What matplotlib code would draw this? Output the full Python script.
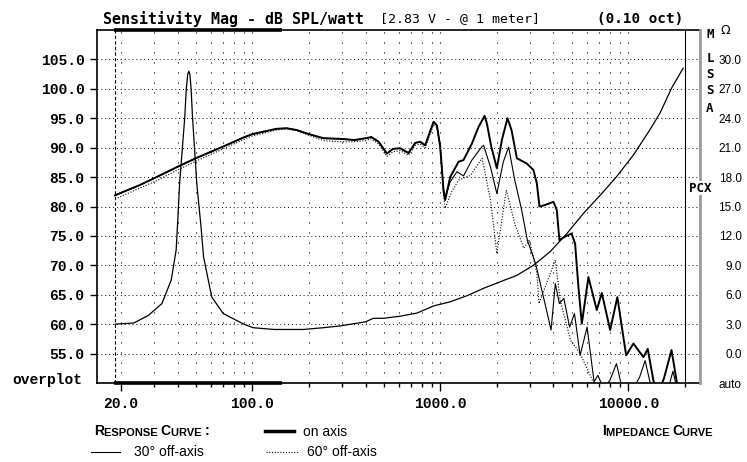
import matplotlib.pyplot as plt
from matplotlib.lines import Line2D
from matplotlib.ticker import NullFormatter, NullLocator

# ---- values ----
# on-axis response, Hz / dB SPL
on_freq = [18.6, 20.6, 25, 30, 40, 50, 70, 90, 100, 134,
           152, 172, 200, 239, 293, 350, 400, 430, 470, 520,
           560, 612, 677, 735, 782, 831, 921, 959, 999, 1040,
           1061, 1129, 1250, 1329, 1473, 1597, 1720, 1770, 1867, 2000,
           2127, 2278, 2393, 2556, 2886, 3130, 3265, 3371, 3571, 4003,
           4168, 4304, 4618, 4996, 5216, 5433, 5665, 6142, 6801, 7237,
           8014, 8755, 9749, 10658, 12051, 12700, 13600, 14300, 15500, 17000, 18500]
on_db = [81.9, 82.5, 83.6, 84.8, 86.75, 88.2, 90.2, 91.75, 92.3, 93.2,
         93.3, 93.0, 92.3, 91.6, 91.5, 91.3, 91.6, 91.8, 91.0, 89.0,
         89.8, 89.9, 89.1, 90.8, 91.0, 90.4, 94.4, 93.8, 90.2, 82.8,
         81.1, 85.0, 87.6, 87.9, 90.7, 93.5, 95.4, 94.1, 90.2, 86.5,
         91.3, 95.0, 93.0, 88.2, 87.3, 86.2, 83.9, 80.0, 80.2, 80.8,
         79.4, 74.3, 74.9, 75.4, 73.7, 66.3, 60.1, 68.0, 62.4, 65.3,
         59.0, 64.6, 54.7, 56.7, 54.4, 55.8, 50.5, 48.0, 50.8, 55.6, 48.5]

# 30 deg off-axis
off30_freq = [18.6, 20.6, 25, 30, 40, 50, 70, 90, 100, 134,
              152, 172, 200, 239, 293, 350, 400, 430, 470, 520,
              560, 612, 677, 735, 782, 831, 921, 959, 999, 1040,
              1061, 1129, 1226, 1329, 1473, 1668, 1700, 1850, 2000, 2165,
              2310, 2490, 2710, 2905, 3215, 3571, 3885, 4094, 4304, 4544,
              4877, 5176, 5548, 6041, 6583, 6900, 7400, 8000, 8660, 9300,
              10400, 11500, 12300, 13200, 15100, 15500, 16000, 17300, 18500]
off30_db = [81.9, 82.5, 83.6, 84.8, 86.75, 88.2, 90.2, 91.75, 92.3, 93.2,
            93.3, 93.0, 92.3, 91.6, 91.5, 91.3, 91.6, 91.8, 91.0, 89.0,
            89.8, 89.9, 89.1, 90.8, 91.0, 90.4, 94.4, 93.8, 90.2, 83.0,
            81.5, 84.2, 85.9, 85.2, 87.9, 90.2, 90.4, 86.7, 82.2, 87.6,
            90.1, 84.5, 79.4, 74.3, 70.3, 64.1, 59.0, 66.9, 63.5, 64.4,
            59.5, 61.8, 54.7, 59.5, 50.2, 51.3, 49.0, 50.5, 53.3, 49.0,
            48.5, 51.0, 53.8, 49.5, 47.5, 49.8, 48.0, 52.0, 48.0]

# 60 deg off-axis
off60_freq = [18.6, 20.6, 30, 40, 50, 70, 90, 100, 134, 152,
              172, 200, 239, 293, 350, 400, 430, 470, 520, 560,
              612, 677, 735, 782, 831, 921, 959, 999, 1040, 1061,
              1150, 1250, 1450, 1668, 1850, 2000, 2245, 2490, 2780, 2980,
              3265, 3350, 4094, 4342, 4930, 5548, 6447, 7000]
off60_db = [81.3, 81.9, 84.2, 86.2, 87.7, 89.8, 91.4, 92.0, 93.0, 93.2,
            92.9, 92.1, 91.2, 91.0, 91.0, 91.2, 91.5, 90.6, 88.5, 89.3,
            89.5, 88.7, 90.4, 90.6, 90.0, 93.9, 93.4, 90.0, 82.0, 79.7,
            82.5, 84.5, 85.3, 88.2, 81.1, 72.0, 82.8, 77.1, 72.9, 74.3,
            68.6, 63.5, 70.9, 64.1, 57.3, 55.0, 50.5, 49.0]

# impedance, Hz / ohm
imp_freq = [18.6, 23.4, 28, 33, 37, 39.3, 40, 41, 43.7, 44.5,
            45.3, 45.9, 46.5, 47.2, 48, 50.6, 53.3, 55, 60.8, 70,
            90, 101, 130, 187, 239, 293, 400, 440, 500, 612,
            754, 921, 1129, 1403, 1700, 2083, 2556, 3130, 3835, 4716,
            5767, 7088, 8660, 10658, 13020, 14777, 17000, 19600]
imp_ohm = [3.0, 3.12, 3.9, 5.1, 7.5, 10.56, 13.26, 17.34, 24.18, 27.0,
           28.5, 28.8, 28.5, 27.0, 24.18, 17.34, 12.93, 9.84, 5.76, 4.08,
           3.0, 2.64, 2.46, 2.46, 2.64, 2.82, 3.24, 3.6, 3.6, 3.81,
           4.14, 4.86, 5.28, 5.94, 6.66, 7.32, 7.98, 9.0, 10.38, 12.24,
           14.28, 16.14, 18.03, 20.25, 22.8, 24.54, 27.06, 29.1]

db_ticks = [55, 60, 65, 70, 75, 80, 85, 90, 95, 100, 105]
freq_labels = [20, 100, 1000, 10000]
grid_freqs = [20, 30, 40, 50, 60, 70, 80, 90,
              100, 200, 300, 400, 500, 600, 700, 800, 900,
              1000, 2000, 3000, 4000, 5000, 6000, 7000, 8000, 9000, 10000]
hf_line = 20000
start_line = 18.6
bar_freqs = [18.3, 144]
ohm_ticks = [-3, 0, 3, 6, 9, 12, 15, 18, 21, 24, 27, 30]
ohm_labels = ['auto'] + ['%.1f' % v for v in ohm_ticks[1:]]

W, H = 747, 462
mono = 'Liberation Mono'
sans = 'Liberation Sans'

fig = plt.figure(figsize=(W / 100, H / 100), dpi=100)
ax = fig.add_axes([97 / W, 1 - 383 / H, 603 / W, 353 / H])
ax.set_xscale('log')
ax.set_xlim(14.9, 24100)
ax.set_ylim(50, 110)

# grid
for f in grid_freqs:
    ax.axvline(f, color='black', lw=0.8, ls=(0, (1, 8)), zorder=1)
for d in db_ticks:
    ax.axhline(d, color='black', lw=0.7, ls=(0, (1, 3)), zorder=1)
ax.axvline(start_line, color='black', lw=0.8, ls=(0, (3, 2)), zorder=1)
ax.axvline(hf_line, color='black', lw=0.8, zorder=1)

# curves
ax.plot(on_freq, on_db, color='black', lw=1.4, zorder=4)
ax.plot(off30_freq, off30_db, color='black', lw=0.8, zorder=3)
ax.plot(off60_freq, off60_db, color='black', lw=0.8, ls=(0, (1, 1.5)), zorder=3)

# thick bars along top and bottom
for yb in (110, 50):
    ax.plot(bar_freqs, [yb, yb], color='black', lw=2.6, solid_capstyle='butt',
            clip_on=False, zorder=6)

# axis ticks
ax.set_xticks(freq_labels)
ax.set_xticklabels(['%.1f' % f for f in freq_labels], family=mono, weight='bold', size=10.5)
ax.set_xticks(grid_freqs + [hf_line], minor=True)
ax.xaxis.set_minor_formatter(NullFormatter())
ax.tick_params(axis='x', which='major', direction='out', length=6, width=1, pad=4, top=False)
ax.tick_params(axis='x', which='minor', direction='out', length=3, width=1, top=False)
ax.set_yticks(db_ticks)
ax.set_yticklabels(['%.1f' % d for d in db_ticks], family=mono, weight='bold', size=10.5)
ax.yaxis.set_minor_locator(NullLocator())
ax.tick_params(axis='y', direction='out', length=5, width=1, pad=4, right=False)
for s in ['left', 'bottom', 'top']:
    ax.spines[s].set_linewidth(1.2)
ax.spines['right'].set_visible(False)

# impedance on its own scale
ax2 = ax.twinx()
ax2.set_ylim(-3, 33)
ax2.plot(imp_freq, imp_ohm, color='black', lw=0.9)
ax2.set_yticks(ohm_ticks)
ax2.set_yticklabels(ohm_labels, family=sans, size=8.5, ha='right')
ax2.tick_params(axis='y', length=0, pad=30)
for s in ['left', 'bottom', 'top']:
    ax2.spines[s].set_visible(False)
ax2.spines['right'].set_color('#9a9a9a')
ax2.spines['right'].set_linewidth(2)

# title
fig.text(103 / W, 1 - 19 / H, 'Sensitivity Mag - dB SPL/watt', family='DejaVu Sans Mono',
         weight='bold', size=10.8, va='center')
fig.text(380 / W, 1 - 19 / H, '[2.83 V - @ 1 meter]', family='DejaVu Sans Mono',
         size=9.5, va='center')
fig.text(597 / W, 1 - 19 / H, '(0.10 oct)', family='DejaVu Sans Mono',
         weight='bold', size=10.3, va='center')

fig.text(82 / W, 1 - 380 / H, 'overplot', family=mono, weight='bold', size=10.5,
         ha='right', va='center')
fig.text(725 / W, 1 - 30 / H, 'Ω', family='DejaVu Sans', size=9, ha='center', va='center')
for ch, yy in zip('MLSSA', [35, 59, 75, 90, 109]):
    fig.text(710 / W, 1 - yy / H, ch, family='DejaVu Sans Mono', weight='bold', size=9,
             ha='center', va='center')
fig.text(700 / W, 1 - 188 / H, 'PCX', family='DejaVu Sans Mono', weight='bold', size=9,
         ha='center', va='center', bbox=dict(fc='white', ec='none', pad=0.5))


def small_caps(x, y, words):
    # first letter large, rest small, chained one after another
    parts = []
    for w in words:
        parts.append((w[0], 10))
        parts.append((w[1:] + ' ', 8))
    t = fig.text(x / W, 1 - y / H, parts[0][0], family=sans, weight='bold',
                 size=parts[0][1], va='bottom')
    for txt, sz in parts[1:]:
        t = ax.annotate(txt, xy=(1, 0), xycoords=t, family=sans, weight='bold', size=sz,
                        va='bottom', ha='left', annotation_clip=False)


small_caps(94, 438, ['RESPONSE', 'CURVE', ':'])
small_caps(602, 438, ['IMPEDANCE', 'CURVE'])

fig.add_artist(Line2D([265 / W, 294 / W], [1 - 431 / H] * 2, color='black', lw=2.5))
fig.text(303 / W, 1 - 432 / H, 'on axis', family=sans, size=10, va='center')
fig.add_artist(Line2D([91 / W, 120 / W], [1 - 452 / H] * 2, color='black', lw=0.8))
fig.text(134 / W, 1 - 452 / H, '30° off-axis', family=sans, size=10, va='center')
fig.add_artist(Line2D([266 / W, 298 / W], [1 - 452 / H] * 2, color='black', lw=0.8,
                      ls=(0, (1, 1.5))))
fig.text(307 / W, 1 - 452 / H, '60° off-axis', family=sans, size=10, va='center')

fig.savefig('out.png', dpi=100)
